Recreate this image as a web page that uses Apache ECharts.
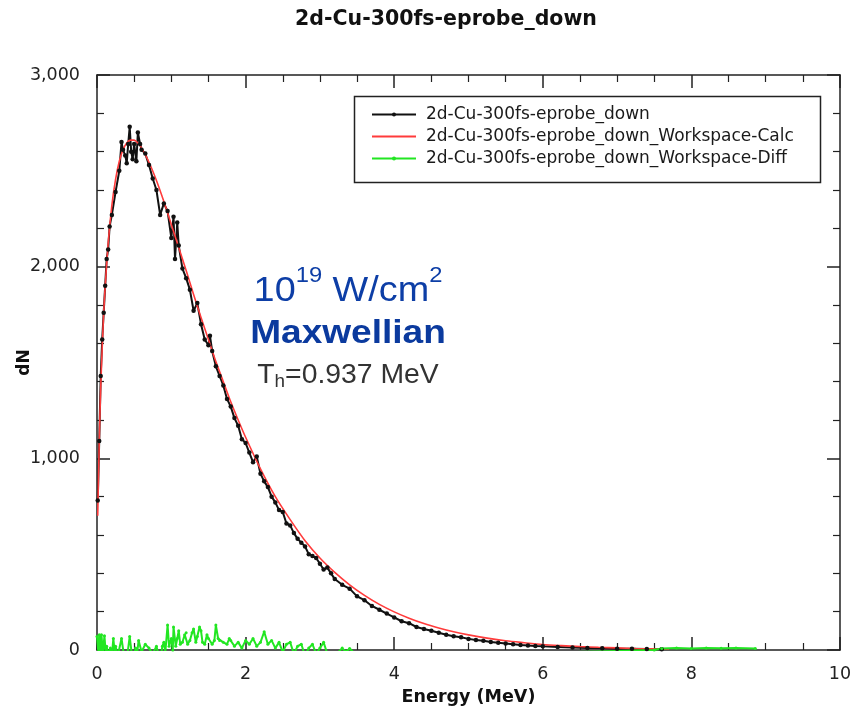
<!DOCTYPE html>
<html>
<head>
<meta charset="utf-8">
<script src="https://cdn.jsdelivr.net/npm/echarts@6/dist/echarts.min.js"></script>
<style>
html, body { margin: 0; padding: 0; background: #fff; }
#main { width: 850px; height: 711px; }
</style>
</head>
<body>
<div id="main"></div>
<script>
// measured spectrum (energy MeV, dN)
var probeData = [
	[0.01,780],[0.03,1090],[0.05,1430],[0.07,1620],[0.09,1760],[0.11,1900],[0.13,2040],[0.15,2090],
	[0.17,2210],[0.20,2270],[0.25,2390],[0.30,2500],[0.33,2650],[0.35,2610],[0.38,2580],[0.40,2540],
	[0.42,2640],[0.44,2730],[0.46,2600],[0.48,2560],[0.50,2640],[0.53,2550],[0.55,2700],[0.58,2640],
	[0.60,2610],[0.65,2590],[0.70,2530],[0.75,2460],[0.80,2400],[0.85,2270],[0.90,2330],[0.95,2290],
	[1.00,2150],[1.03,2260],[1.05,2040],[1.08,2230],[1.10,2110],[1.15,1990],[1.20,1940],[1.25,1880],
	[1.30,1770],[1.35,1810],[1.40,1700],[1.45,1620],[1.50,1590],[1.52,1640],[1.55,1560],[1.60,1480],
	[1.65,1430],[1.70,1380],[1.75,1310],[1.80,1270],[1.85,1210],[1.90,1170],[1.95,1100],[2.00,1080],
	[2.05,1030],[2.10,980],[2.15,1010],[2.20,920],[2.25,880],[2.30,850],[2.35,800],[2.40,770],
	[2.45,730],[2.50,720],[2.55,660],[2.60,650],[2.65,610],[2.70,580],[2.75,560],[2.80,540],
	[2.85,500],[2.90,490],[2.95,480],[3.00,450],[3.05,420],[3.10,430],[3.15,400],[3.20,370],
	[3.30,340],[3.40,320],[3.50,280],[3.60,260],[3.70,230],[3.80,210],[3.90,190],[4.00,170],
	[4.10,150],[4.20,140],[4.30,120],[4.40,110],[4.50,100],[4.60,90],[4.70,80],[4.80,72],
	[4.90,66],[5.00,58],[5.10,52],[5.20,48],[5.30,42],[5.40,38],[5.50,34],[5.60,30],
	[5.70,26],[5.80,24],[5.90,21],[6.00,19],[6.20,16],[6.40,13],[6.60,11],[6.80,9],
	[7.00,7],[7.20,6],[7.40,5],[7.60,4]
];
// fitted curve
var calcData = [
	[0.01,700],[0.03,1080],[0.05,1370],[0.08,1670],[0.10,1830],[0.15,2120],[0.20,2320],[0.25,2455],
	[0.30,2550],[0.35,2610],[0.40,2645],[0.45,2660],[0.50,2660],[0.55,2645],[0.60,2620],[0.70,2545],
	[0.80,2450],[0.90,2340],[1.00,2220],[1.10,2100],[1.20,1980],[1.30,1855],[1.40,1735],[1.50,1620],
	[1.60,1505],[1.70,1400],[1.80,1295],[1.90,1200],[2.00,1110],[2.20,945],[2.40,800],[2.60,680],
	[2.80,570],[3.00,480],[3.20,405],[3.40,340],[3.60,285],[3.80,238],[4.00,199],[4.20,166],
	[4.40,138],[4.60,115],[4.80,95],[5.00,79],[5.25,62],[5.50,48],[5.75,38],[6.00,29],
	[6.25,23],[6.50,18],[6.75,14],[7.00,11],[7.25,8],[7.50,6],[7.70,5]
];
// difference data - calc
var diffData = [
	[0.00,70],[0.02,-20],[0.03,80],[0.05,-10],[0.06,80],[0.08,-20],[0.10,75],[0.12,-30],[0.13,20],
	[0.15,-20],[0.18,10],[0.20,-30],[0.22,60],[0.24,-20],[0.25,20],[0.28,-30],[0.30,-40],[0.33,60],
	[0.36,-20],[0.40,-50],[0.44,70],[0.48,-60],[0.52,10],[0.54,-20],[0.56,50],[0.60,-10],[0.65,30],
	[0.70,10],[0.75,-20],[0.80,20],[0.85,-60],[0.88,20],[0.90,40],[0.92,-10],[0.95,130],[0.97,20],
	[1.00,60],[1.02,0],[1.03,120],[1.06,20],[1.08,60],[1.10,100],[1.12,30],[1.15,40],[1.18,80],
	[1.20,90],[1.22,30],[1.25,50],[1.28,90],[1.30,110],[1.33,40],[1.35,70],[1.38,120],[1.40,100],
	[1.42,40],[1.45,30],[1.48,80],[1.50,60],[1.55,30],[1.58,50],[1.60,130],[1.63,60],[1.65,50],
	[1.70,40],[1.75,30],[1.78,60],[1.80,50],[1.85,20],[1.90,40],[1.95,10],[2.00,50],[2.05,30],
	[2.10,60],[2.15,20],[2.20,40],[2.25,95],[2.30,30],[2.35,50],[2.40,10],[2.45,40],
	[2.50,-10],[2.55,30],[2.60,40],[2.65,-20],[2.70,20],[2.75,30],[2.80,-30],[2.85,10],
	[2.90,30],[2.95,-20],[3.00,10],[3.05,40],[3.10,-20],[3.20,-30],[3.30,10],[3.35,-10],
	[3.40,8],[3.50,-30],[4.00,-40],[5.00,-30],[6.00,-15],[7.00,-5],[7.50,0],[7.60,8],
	[7.80,10],[8.00,8],[8.20,10],[8.40,9],[8.60,10],[8.86,8]
];
var seriesNames = ['2d-Cu-300fs-eprobe_down', '2d-Cu-300fs-eprobe_down_Workspace-Calc', '2d-Cu-300fs-eprobe_down_Workspace-Diff'];

var font = 'DejaVu Sans';
var myChart = echarts.init(document.getElementById('main'));

function frameAxis(pos, isX) {
	var ax = {
		type: 'value',
		position: pos,
		min: 0,
		max: isX ? 10 : 3000,
		interval: isX ? 2 : 1000,
		axisLine: { show: true, onZero: false, lineStyle: { color: '#222', width: 1.5 } },
		axisTick: { show: true, inside: true, length: 13, lineStyle: { color: '#222', width: 1.5 } },
		minorTick: { show: true, splitNumber: isX ? 4 : 5, length: 7, lineStyle: { color: '#222', width: 1.2 } },
		splitLine: { show: false },
		axisLabel: { show: false }
	};
	return ax;
}

var xBottom = frameAxis('bottom', true);
xBottom.axisLabel = { show: true, margin: 15, color: '#222', fontFamily: font, fontSize: 17.5 };
xBottom.name = 'Energy (MeV)';
xBottom.nameLocation = 'middle';
xBottom.nameGap = 38;
xBottom.nameMoveOverlap = false;
xBottom.nameTextStyle = { fontFamily: font, fontSize: 17.5, fontWeight: 'bold', color: '#111' };
var xTop = frameAxis('top', true);

var yLeft = frameAxis('left', false);
yLeft.axisLabel = {
	show: true, margin: 17, color: '#222', fontFamily: font, fontSize: 17.5,
	formatter: function (v) { return v.toLocaleString('en-US'); }
};
yLeft.name = 'dN';
yLeft.nameLocation = 'middle';
yLeft.nameGap = 64;
yLeft.nameMoveOverlap = false;
yLeft.nameTextStyle = { fontFamily: font, fontSize: 17, fontWeight: 'bold', color: '#111' };
var yRight = frameAxis('right', false);

option = {
	animation: false,
	backgroundColor: '#fff',
	title: {
		text: '2d-Cu-300fs-eprobe_down',
		left: 441,
		textAlign: 'center',
		top: 4,
		textStyle: { fontFamily: font, fontSize: 20.5, fontWeight: 'bold', color: '#111' }
	},
	legend: {
		orient: 'vertical',
		left: 366,
		top: 101,
		itemWidth: 44,
		itemHeight: 5,
		itemGap: 5,
		data: [
			{ name: seriesNames[0] },
			{ name: seriesNames[1], itemStyle: { opacity: 0 } },
			{ name: seriesNames[2] }
		],
		textStyle: { fontFamily: font, fontSize: 17, color: '#1a1a1a', padding: [0, 0, 0, 5] }
	},
	grid: { left: 97, right: 10, top: 75, bottom: 61, outerBoundsMode: 'none' },
	xAxis: [xBottom, xTop],
	yAxis: [yLeft, yRight],
	graphic: [
		{ type: 'rect', left: 352, top: 94, shape: { width: 466, height: 86 },
		  style: { fill: 'none', stroke: '#222', lineWidth: 1.5 }, z: 10 },
		{ type: 'text', x: 348, y: 287, z: 10, scaleX: 1.08,
		  style: {
			text: '{m|10}{s|19}{m| W/cm}{s|2}',
			align: 'center', verticalAlign: 'middle',
			rich: {
				m: { fontFamily: 'Liberation Sans', fontSize: 35, fill: '#0d3ea6', lineHeight: 44, verticalAlign: 'bottom' },
				s: { fontFamily: 'Liberation Sans', fontSize: 22, fill: '#0d3ea6', verticalAlign: 'top' }
			}
		  } },
		{ type: 'text', x: 348, y: 334, z: 10, scaleX: 1.09,
		  style: { text: 'Maxwellian', align: 'center', verticalAlign: 'middle',
			font: 'bold 34px "Liberation Sans"', fill: '#0b3a9e' } },
		{ type: 'text', x: 348, y: 377, z: 10, scaleX: 1.05,
		  style: {
			text: '{m|T}{b|h}{m|=0.937 MeV}',
			align: 'center', verticalAlign: 'middle',
			rich: {
				m: { fontFamily: 'Liberation Sans', fontSize: 27, fill: '#333', lineHeight: 29, verticalAlign: 'top' },
				b: { fontFamily: 'Liberation Sans', fontSize: 18, fill: '#333', verticalAlign: 'bottom' }
			}
		  } }
	],
	series: [
		{
			name: seriesNames[0],
			type: 'line',
			data: probeData,
			symbol: 'circle',
			symbolSize: 4.5,
			showSymbol: true,
			lineStyle: { color: '#111', width: 2 },
			itemStyle: { color: '#111' }
		},
		{
			name: seriesNames[1],
			type: 'line',
			data: calcData,
			smooth: 0.3,
			symbol: 'none',
			lineStyle: { color: '#ff3b3b', width: 1.6 },
			itemStyle: { color: '#ff3b3b' }
		},
		{
			name: seriesNames[2],
			type: 'line',
			data: diffData,
			symbol: 'circle',
			symbolSize: 3,
			lineStyle: { color: '#22e622', width: 2 },
			itemStyle: { color: '#22e622' }
		}
	]
};
myChart.setOption(option);
</script>
</body>
</html>
